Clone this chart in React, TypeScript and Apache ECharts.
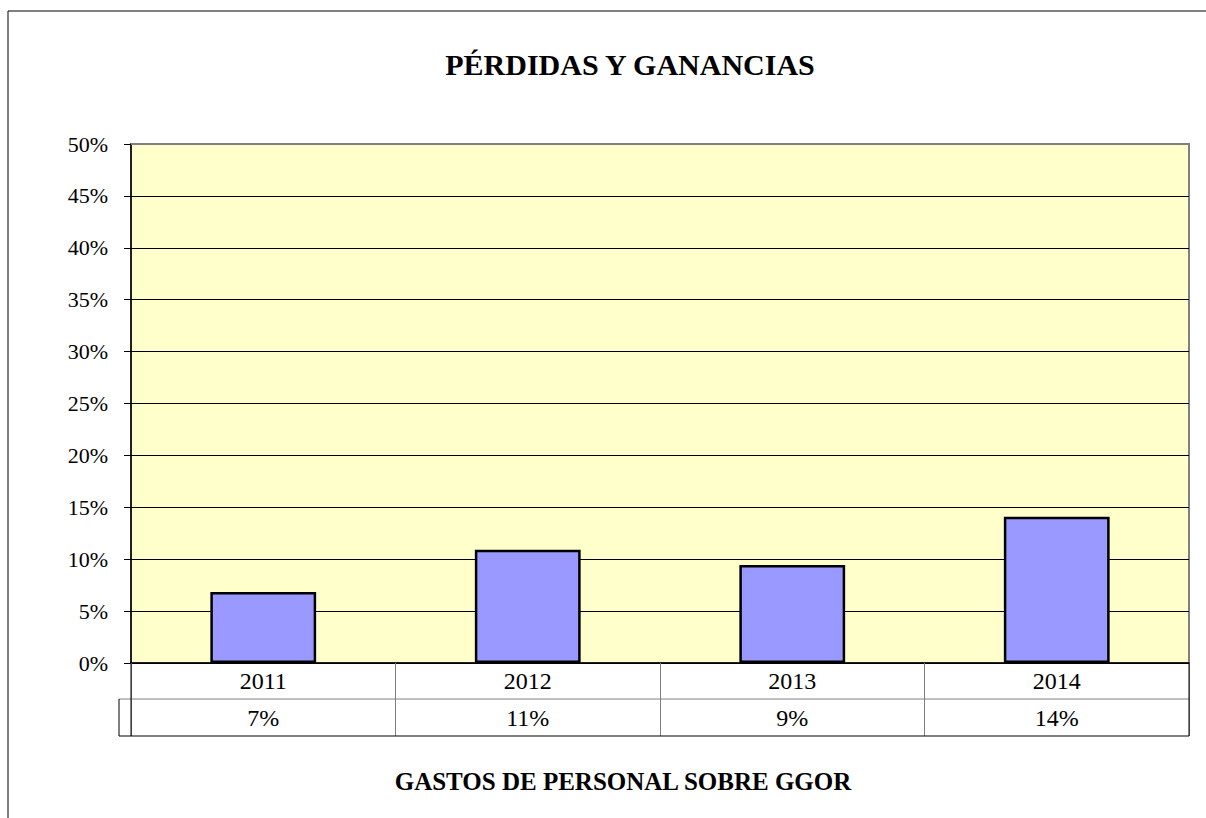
import React, { useEffect, useRef } from "react";
import * as echarts from "echarts";

const years = ["2011", "2012", "2013", "2014"];
const values = [6.84, 10.91, 9.44, 14.09];
const tableValues = ["7%", "11%", "9%", "14%"];
const yTicks = { min: 0, max: 50, interval: 5 };

const FONT = "'Times New Roman', 'Liberation Serif', serif";

export default function App() {
  const ref = useRef<HTMLDivElement>(null);
  useEffect(() => {
    if (!ref.current) return;
    const chart = echarts.init(ref.current, undefined, { renderer: "svg" });
    const L = 131, R = 1189, T = 144, B = 663;
    const row1 = 699, row2 = 736;
    chart.setOption({
      animation: false,
      backgroundColor: "#ffffff",
      textStyle: { fontFamily: FONT },
      grid: {
        left: L, right: 1206 - R, top: T, bottom: 818 - B,
        show: true, backgroundColor: "#FFFFCC", borderColor: "#808080", borderWidth: 2,
      },
      xAxis: {
        type: "category",
        data: years,
        axisLine: { show: true, lineStyle: { color: "#000", width: 1.5 } },
        axisTick: { show: true, length: row2 - B, lineStyle: { color: "#808080", width: 1 } },
        axisLabel: {
          margin: 0,
          interval: 0,
          formatter: (v: string, i: number) => `{y|${v}}\n{v|${tableValues[i]}}`,
          rich: {
            y: { fontFamily: FONT, fontSize: 24, color: "#000", lineHeight: 36, height: 36 },
            v: { fontFamily: FONT, fontSize: 24, color: "#000", lineHeight: 38, height: 38 },
          },
        },
      },
      yAxis: {
        type: "value",
        min: yTicks.min, max: yTicks.max, interval: yTicks.interval,
        axisLine: { show: true, lineStyle: { color: "#000", width: 1.5 } },
        axisTick: { show: true, length: 7, lineStyle: { color: "#000" } },
        axisLabel: {
          formatter: (v: number) => `${v}%`,
          fontFamily: FONT, fontSize: 22, color: "#000", margin: 23,
        },
        splitLine: { show: true, lineStyle: { color: "#000", width: 1 } },
      },
      series: [
        {
          type: "bar",
          data: values,
          barWidth: "40%",
          itemStyle: { color: "#9999FF", borderColor: "#000", borderWidth: 2.5 },
        },
      ],
      graphic: [
        { type: "rect", shape: { x: 8, y: 11, width: 1400, height: 1000 }, style: { fill: "none", stroke: "#000", lineWidth: 1 }, silent: true },
        { type: "line", shape: { x1: L, y1: T, x2: R + 1, y2: T }, style: { stroke: "#808080", lineWidth: 2 }, z: 100 },
        { type: "line", shape: { x1: 119, y1: row1, x2: R, y2: row1 }, style: { stroke: "#808080", lineWidth: 1 }, z: 100 },
        { type: "line", shape: { x1: 119, y1: row2, x2: R, y2: row2 }, style: { stroke: "#000", lineWidth: 1 }, z: 100 },
        { type: "line", shape: { x1: 119, y1: row1, x2: 119, y2: row2 }, style: { stroke: "#000", lineWidth: 1 }, z: 100 },
        { type: "line", shape: { x1: L, y1: B, x2: L, y2: row2 }, style: { stroke: "#000", lineWidth: 1 }, z: 100 },
        { type: "line", shape: { x1: R, y1: B, x2: R, y2: row2 }, style: { stroke: "#000", lineWidth: 1 }, z: 100 },
        {
          type: "text", x: 630, y: 64,
          style: { text: "PÉRDIDAS Y GANANCIAS", fontFamily: FONT, fontSize: 30, fontWeight: "bold", fill: "#000", align: "center", verticalAlign: "middle" },
        },
        {
          type: "text", x: 623, y: 781,
          style: { text: "GASTOS DE PERSONAL SOBRE GGOR", fontFamily: FONT, fontSize: 25, fontWeight: "bold", fill: "#000", align: "center", verticalAlign: "middle" },
        },
      ],
    });
    return () => chart.dispose();
  }, []);
  return <div ref={ref} style={{ position: "fixed", left: 0, top: 0, width: 1206, height: 818 }} />;
}
